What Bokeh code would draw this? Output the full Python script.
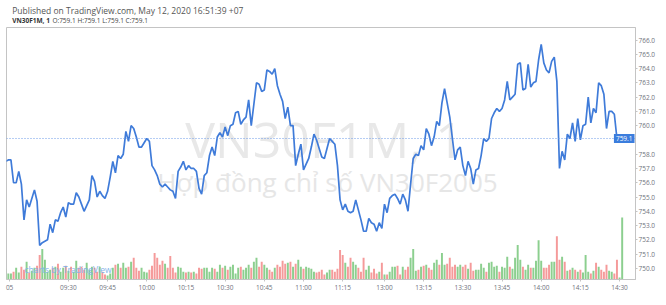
from bokeh.plotting import figure
from bokeh.layouts import column
from bokeh.models import Range1d, FixedTicker, Label, Span, NumeralTickFormatter, ColumnDataSource
from bokeh.core.properties import value
from bokeh.embed import file_html
from bokeh.resources import INLINE

# ---- data (1-minute bars, VN30F1M, 12 May 2020) ----
price = [
    757.5, 757.6, 757.6, 756.0, 756.0, 756.8, 755.9, 753.4, 754.8, 754.3,
    754.9, 755.5, 754.7, 751.6, 751.8, 751.9, 752.0, 753.1, 752.5, 753.4,
    753.3, 753.9, 754.3, 753.6, 754.6, 754.5, 754.5, 755.3, 755.0, 754.5,
    754.0, 754.4, 754.8, 756.5, 756.1, 755.0, 755.4, 755.1, 754.9, 755.4,
    756.4, 757.5, 756.7, 757.9, 757.7, 758.0, 759.6, 758.9, 760.0, 759.8,
    759.2, 758.5, 758.5, 758.8, 759.1, 758.9, 757.2, 756.9, 756.5, 755.9,
    755.7, 755.9, 755.7, 755.5, 755.4, 754.9, 756.8, 757.1, 757.5, 756.9,
    757.2, 757.0, 757.0, 756.8, 755.6, 755.2, 756.5, 756.7, 757.9, 758.5,
    757.9, 759.2, 759.5, 759.2, 759.9, 759.3, 760.0, 760.1, 760.9, 761.0,
    760.1, 760.4, 760.6, 761.8, 760.0, 761.5, 763.0, 762.9, 762.4, 762.5,
    763.9, 763.8, 763.6, 764.0, 762.8, 762.2, 761.7, 760.5, 761.3, 760.0,
    760.0, 757.2, 758.0, 758.7, 756.9, 757.3, 757.7, 758.5, 759.4, 759.0,
    758.4, 757.8, 757.7, 758.4, 759.1, 758.9, 758.7, 757.2, 754.8, 754.1,
    754.5, 754.0, 753.9, 754.0, 754.8, 754.1, 753.4, 752.6, 752.6, 753.5,
    753.2, 753.1, 752.6, 753.2, 752.8, 754.5, 753.9, 754.9, 755.1, 755.2,
    754.9, 754.5, 755.2, 754.8, 754.0, 755.9, 757.7, 758.0, 757.9, 758.6,
    758.3, 759.8, 759.4, 758.6, 759.2, 760.3, 760.0, 761.6, 762.6, 761.6,
    760.6, 759.1, 757.6, 758.3, 758.5, 757.2, 756.5, 757.5, 757.0, 755.9,
    756.9, 757.0, 757.9, 759.1, 758.9, 759.1, 760.5, 760.9, 761.2, 761.0,
    761.2, 761.8, 763.1, 761.8, 762.0, 762.2, 764.3, 764.4, 762.5, 762.6,
    764.3, 762.7, 763.0, 763.1, 764.6, 765.7, 764.4, 763.9, 763.7, 764.5,
    764.8, 763.1, 757.0, 758.2, 757.6, 759.4, 759.1, 760.2, 758.9, 760.5,
    759.0, 760.0, 760.1, 762.0, 760.2, 761.2, 760.9, 763.0, 762.8, 762.2,
    759.8, 761.0, 761.0, 760.8, 759.1, 759.1, 759.1,
]

volume = [
    1100, 600, 600, 800, 1200, 700, 1300, 1000, 1800, 700,
    900, 1200, 1400, 2500, 3100, 2000, 800, 1000, 1200, 1300,
    1600, 800, 1200, 1400, 900, 1300, 800, 1900, 1200, 1300,
    1000, 1700, 1000, 1300, 1200, 800, 1300, 800, 500, 400,
    600, 1200, 1500, 1600, 1200, 1700, 1200, 1300, 1800, 2200,
    1200, 900, 1200, 800, 700, 1000, 1400, 2700, 2200, 1500,
    1900, 1600, 1200, 2400, 1200, 700, 1300, 1200, 800, 700,
    800, 700, 800, 600, 1200, 1100, 1200, 1200, 800, 1200,
    1100, 800, 1500, 1200, 1400, 1000, 1300, 1500, 600, 1200,
    1300, 1000, 1200, 1500, 1200, 1800, 2200, 1300, 1800, 1500,
    1200, 1000, 800, 1200, 1500, 1300, 1900, 1600, 1700, 1800,
    1300, 1600, 2000, 1300, 1100, 1300, 1200, 1100, 800, 700,
    800, 1000, 500, 700, 1000, 1000, 800, 1100, 3000, 2500,
    1700, 1300, 2200, 1800, 1500, 1200, 800, 2200, 1000, 1400,
    700, 1100, 600, 800, 1700, 500, 500, 800, 1300, 1300,
    1400, 500, 1300, 1000, 1300, 2200, 3100, 900, 1000, 1300,
    1400, 1500, 1200, 1000, 1700, 2000, 1500, 2700, 1500, 1600,
    2200, 1300, 1500, 1300, 1500, 1300, 1500, 1100, 1700, 900,
    1000, 1000, 1600, 1200, 800, 1700, 1800, 1300, 1400, 800,
    1300, 1200, 2300, 1300, 1100, 2200, 3500, 2000, 1300, 1000,
    1500, 1200, 1200, 1900, 4000, 1900, 1200, 1200, 1500, 1800,
    1800, 4400, 2000, 2300, 1800, 900, 1000, 1200, 1000, 800,
    1000, 700, 2500, 800, 600, 900, 1700, 1300, 1000, 800,
    1500, 900, 800, 600, 2000, 200, 6300,
]

time_ticks = [1.5, 24, 39, 54, 69, 84, 99, 114, 129, 145, 160, 175, 190, 205, 220, 235]
time_labels = ["05", "09:30", "09:45", "10:00", "10:15", "10:30", "10:45", "11:00", "11:15",
               "13:00", "13:15", "13:30", "13:45", "14:00", "14:15", "14:30"]
price_ticks = [750, 751, 752, 753, 754, 755, 756, 757, 758, 760, 761, 762, 763, 764, 765, 766]
last_price = price[-1]

header_1 = "Published on TradingView.com, May 12, 2020 16:51:39 +07"
header_sym = "VN30F1M, 1"
header_ohlc = "O:759.1 H:759.1 L:759.1 C:759.1"
watermark_1 = "VN30F1M, 1"
watermark_2 = "Hợp đồng chỉ số VN30F2005"
footer = "TradingView"

# ---- styles ----
LINE = "#3f7bd9"
UP = "#8ccf8f"
DOWN = "#f59a9a"
BORDER = "#c4c4c4"
TXT = "#6f737c"
FONT = "Open Sans"
W = 658
HH, MH, FH = 27, 267, 3

idx = list(range(len(price)))
colors = [UP if i == 0 or price[i] >= price[i - 1] else DOWN for i in idx]
src = ColumnDataSource(dict(x=idx, price=price, vol=volume, color=colors))

# ---------- header strip ----------
head = figure(width=W, height=HH, output_backend="svg", toolbar_location=None,
              x_range=Range1d(0, W), y_range=Range1d(0, HH),
              min_border=0, x_axis_location=None, y_axis_location=None)
head.grid.visible = False
head.outline_line_color = None
head.text(x=[6], y=[17], text=[header_1], text_font=value(FONT),
          text_font_size=value("8.5px"), text_color="#555555", text_baseline="middle")
head.text(x=[6], y=[7], text=[header_sym], text_font=value(FONT),
          text_font_size=value("6.5px"), text_font_style="bold", text_color="#333333",
          text_baseline="middle")
head.text(x=[48], y=[7], text=[header_ohlc], text_font=value(FONT),
          text_font_size=value("6.5px"), text_color="#444444", text_baseline="middle")

# ---------- main chart ----------
x_start, x_end = 0.3, 241.1
p_main = figure(width=W, height=MH, output_backend="svg", toolbar_location=None,
                x_range=Range1d(x_start, x_end), y_range=Range1d(749.221, 766.876),
                y_axis_location="right",
                min_border_left=6, min_border_right=22, min_border_top=0, min_border_bottom=11)
p_main.grid.visible = False
p_main.outline_line_color = BORDER
p_main.background_fill_color = "white"
p_main.border_fill_color = "white"

# watermarks (behind the data)
p_main.add_layout(Label(x=318, y=141, x_units="screen", y_units="screen", text=watermark_1,
                        text_align="center", text_baseline="middle", text_font=FONT,
                        text_font_size="50px", text_color="#e8e8e8", level="underlay"))
p_main.add_layout(Label(x=321, y=98, x_units="screen", y_units="screen", text=watermark_2,
                        text_align="center", text_baseline="middle", text_font=FONT,
                        text_font_size="26px", text_color="#e6e6e6", level="underlay"))

p_main.extra_y_ranges = {"vol": Range1d(0, 25600)}
p_main.vbar(x="x", top="vol", width=0.75, color="color", line_color=None,
            y_range_name="vol", source=src)
p_main.line("x", "price", source=src, line_color=LINE, line_width=1.7)

p_main.add_layout(Label(x=18, y=10, x_units="screen", y_units="screen",
                        text="charts by TradingView", text_baseline="middle", text_font=FONT,
                        text_font_size="8.5px", text_color="#7fb2e8"))

# last price line + marker
p_main.add_layout(Span(location=last_price, dimension="width", line_color="#6b9be8",
                       line_dash="1 2", line_width=1))
price_tag = Label(x=x_end, y=last_price, text=f"{last_price:.1f}", x_offset=-1,
                  text_align="right", text_baseline="middle", text_color="white",
                  text_font_size="6.5px", text_font=FONT,
                  background_fill_color="#3b7ddd", border_line_color=None)
if "padding" in Label.properties():
    price_tag.padding = 2
p_main.add_layout(price_tag)

xa = p_main.xaxis[0]
xa.ticker = FixedTicker(ticks=time_ticks)
xa.major_label_overrides = {t: l for t, l in zip(time_ticks, time_labels)}
xa.major_tick_out = 2
xa.major_tick_in = 0
xa.minor_tick_line_color = None
xa.major_label_standoff = 1
xa.major_label_text_font = FONT
xa.major_label_text_font_size = "6.5px"
xa.major_label_text_color = TXT
xa.axis_line_color = BORDER
xa.major_tick_line_color = BORDER

ya = p_main.yaxis[0]
ya.ticker = FixedTicker(ticks=price_ticks)
ya.formatter = NumeralTickFormatter(format="0.0")
ya.major_tick_out = 2
ya.major_tick_in = 0
ya.minor_tick_line_color = None
ya.major_label_standoff = 1
ya.major_label_text_font = FONT
ya.major_label_text_font_size = "6.5px"
ya.major_label_text_color = TXT
ya.axis_line_color = BORDER
ya.major_tick_line_color = BORDER

# ---------- footer strip ----------
foot = figure(width=W, height=FH, output_backend="svg", toolbar_location=None,
              x_range=Range1d(0, W), y_range=Range1d(0, FH),
              min_border=0, x_axis_location=None, y_axis_location=None)
foot.grid.visible = False
foot.outline_line_color = None
foot.add_layout(Span(location=FH - 0.5, dimension="width", line_color=BORDER, line_width=1))
foot.scatter(x=[13], y=[0], marker="circle", size=7, color="#2a7fd4")
foot.text(x=[20], y=[0], text=[footer], text_font=value(FONT), text_font_size=value("8px"),
          text_color="#333333", text_baseline="middle")

p = column(head, p_main, foot, spacing=0)

open("out.html", "w").write(file_html(p, INLINE))
